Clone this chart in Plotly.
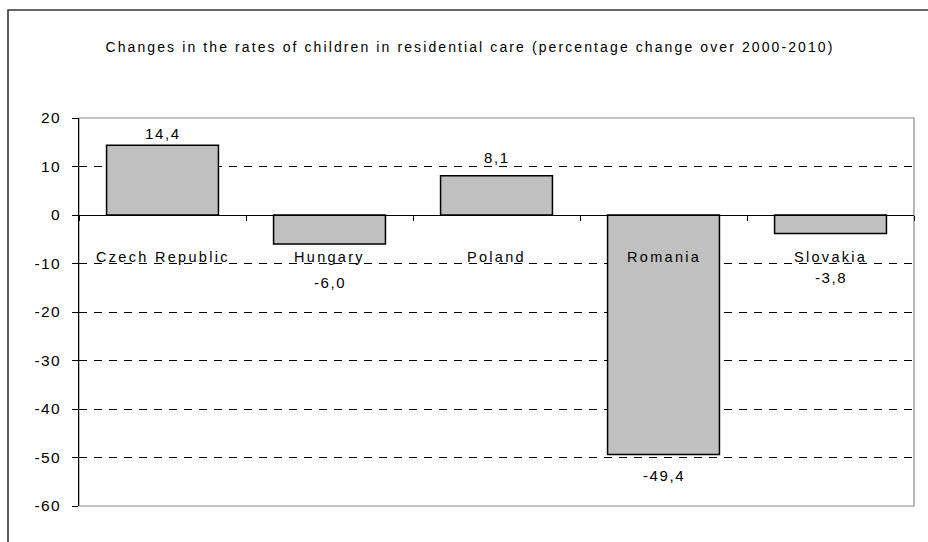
import plotly.graph_objects as go

# Data
countries = ["Czech Republic", "Hungary", "Poland", "Romania", "Slovakia"]
change_pct = [14.4, -6.0, 8.1, -49.4, -3.8]
y_ticks = [20, 10, 0, -10, -20, -30, -40, -50, -60]

TITLE = "Changes in the rates of children in residential care (percentage change over 2000-2010)"

FONT = "Liberation Sans, Arial, sans-serif"


def spaced(text, px=1.6):
    return f'<span style="letter-spacing:{px}px">{text}</span>'


def comma(v):
    return f"{v:.1f}".replace(".", ",")


# Page layout in pixels
W, H = 928, 542
ML, MR, MT, MB = 79, 14, 118, 36
PW, PH = W - ML - MR, H - MT - MB

fig = go.Figure()

fig.add_trace(go.Bar(
    x=countries,
    y=change_pct,
    marker=dict(color="#C0C0C0", line=dict(color="#000000", width=1.5)),
    hoverinfo="x+y",
))

# Value labels: pixel offsets from the bar end
label_shift = [12, -38, 18, -21, -44]
annotations = []
for c, v, s in zip(countries, change_pct, label_shift):
    annotations.append(dict(
        x=c, y=v, xref="x", yref="y", text=spaced(comma(v), 1.6),
        showarrow=False, yanchor="middle", yshift=s,
        font=dict(family=FONT, size=15, color="#000000"),
    ))

# Category names sit just below the zero line
for c in countries:
    annotations.append(dict(
        x=c, y=-8.6, xref="x", yref="y", text=spaced(c, 2.3),
        showarrow=False, yanchor="middle",
        font=dict(family=FONT, size=14.5, color="#000000"),
    ))

# Outer frame (left and top edges)
fx0 = (8 - ML) / PW
fx1 = (W + 5 - ML) / PW
fy_top = (H - MB - 10) / PH
fy_bot = (H - MB - (H + 5)) / PH

shapes = [
    # plot-area border in grey
    dict(type="rect", xref="paper", yref="paper", x0=0, x1=1, y0=0, y1=1,
         line=dict(color="#8C8C8C", width=1.2), layer="below"),
    dict(type="path", xref="paper", yref="paper",
         path=f"M {fx0},{fy_bot} L {fx0},{fy_top} L {fx1},{fy_top}",
         line=dict(color="#333333", width=1.6)),
]

fig.update_layout(
    width=W, height=H,
    margin=dict(l=ML, r=MR, t=MT, b=MB),
    paper_bgcolor="#FFFFFF",
    plot_bgcolor="#FFFFFF",
    showlegend=False,
    bargap=0.33,
    title=dict(
        text=spaced(TITLE, 2.1),
        x=470 / W, xref="container", xanchor="center",
        y=1 - 47 / H, yref="container", yanchor="middle",
        font=dict(family=FONT, size=14, color="#000000"),
    ),
    xaxis=dict(
        type="category",
        anchor="free", position=0.75,
        showline=True, linecolor="#000000", linewidth=1,
        ticks="outside", tickson="boundaries", ticklen=5,
        tickcolor="#000000", tickwidth=1,
        showticklabels=False, showgrid=False, zeroline=False,
        range=[-0.5, 4.5],
    ),
    yaxis=dict(
        range=[-60, 20],
        tickmode="array",
        tickvals=y_ticks,
        ticktext=[spaced(str(t), 1.3) for t in y_ticks],
        ticks="outside", ticklen=6, tickcolor="#000000", tickwidth=1,
        ticklabelstandoff=8,
        showline=True, linecolor="#000000", linewidth=1,
        showgrid=True, gridcolor="#000000", gridwidth=1,
        griddash="8px,7px",
        zeroline=False,
        tickfont=dict(family=FONT, size=15.5, color="#000000"),
    ),
    annotations=annotations,
    shapes=shapes,
)

fig.write_html("out.html")
